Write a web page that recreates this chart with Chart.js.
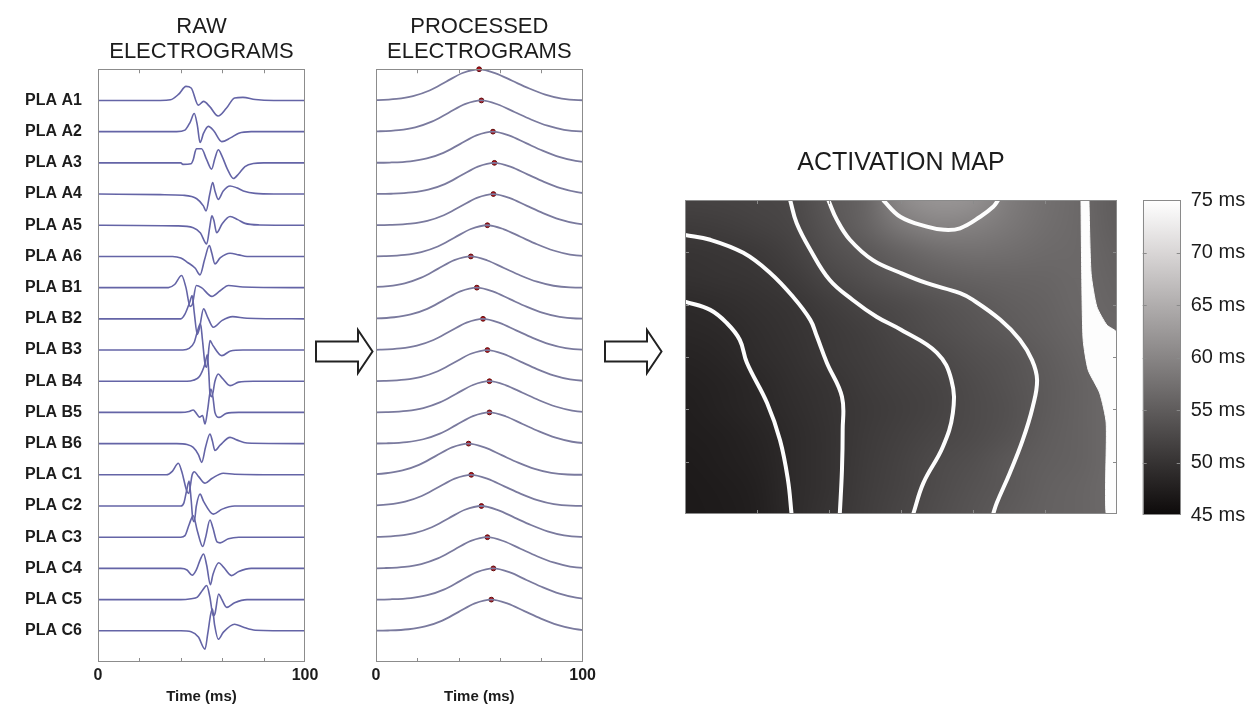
<!DOCTYPE html>
<html lang="en">
<head>
<meta charset="UTF-8">
<title>Electrograms and activation map</title>
<script src="https://cdn.jsdelivr.net/npm/chart.js"></script>
<style>
  body { margin: 0; background: #fff; width: 1255px; height: 706px; position: relative; overflow: hidden; }
  canvas { position: absolute; top: 0; }
  #arrows { position: absolute; left: 0; top: 0; }
</style>
</head>
<body>
<canvas id="raw" width="330" height="706" style="left:0px"></canvas>
<canvas id="proc" width="260" height="706" style="left:340px"></canvas>
<canvas id="map" width="470" height="540" style="left:660px"></canvas>
<canvas id="cbar" width="125" height="540" style="left:1130px"></canvas>
<svg id="arrows" width="1255" height="706">
  <polygon points="316,341.5 358,341.5 358,330 372.5,351.5 358,373 358,361.5 316,361.5" fill="#fff" stroke="#222" stroke-width="2"/>
  <polygon points="605,341.5 647,341.5 647,330 661.5,351.5 647,373 647,361.5 605,361.5" fill="#fff" stroke="#222" stroke-width="2"/>
</svg>
<script>
// electrode names, top to bottom
var electrodes = ['PLA A1','PLA A2','PLA A3','PLA A4','PLA A5','PLA A6',
                  'PLA B1','PLA B2','PLA B3','PLA B4','PLA B5','PLA B6',
                  'PLA C1','PLA C2','PLA C3','PLA C4','PLA C5','PLA C6']
var timeTicks = [0, 20, 40, 60, 80, 100]

// raw electrograms: [time ms, amplitude in trace spacings]
var rawA1 = [[0,0],[30,0],[35,0.02],[39,0.2],[42.5,0.45],[45,0.4],[48.5,-0.15],[51,-0.03],[54,-0.2],[58,-0.5],[62,-0.25],[66,0.08],[70,0.1],[76,0.03],[85,0],[100,0]]
var rawA2 = [[0,0],[38,0],[42,0.05],[44.5,0.3],[46.5,0.58],[48,0.2],[49.3,-0.35],[51,-0.05],[53.3,0.17],[56,0.02],[59.8,-0.32],[64,-0.2],[68,-0.05],[74,0],[100,0]]
var rawA3 = [[0,0],[40,0],[41,-0.05],[45,-0.03],[46,0.1],[47.5,0.45],[50,0.45],[52.5,0.1],[54.9,-0.2],[56.5,0.15],[58.1,0.42],[60,0.2],[62.5,-0.2],[65.4,-0.5],[68,-0.35],[71,-0.12],[75,-0.02],[80,0],[100,0]]
var rawA4 = [[0,0],[30,-0.02],[41,-0.04],[47.7,-0.15],[50.9,-0.38],[52.2,-0.54],[54,0],[55.4,0.37],[56.5,0.1],[58.1,-0.17],[60.5,0.1],[63.8,0.26],[67,0.2],[70.2,0.1],[76,0.02],[85,0],[100,0]]
var rawA5 = [[0,0],[38,-0.02],[46,-0.08],[49.5,-0.25],[52.5,-0.6],[54,-0.05],[55,0.3],[56,0.15],[57.3,-0.24],[60,0.05],[63.8,0.28],[67.5,0.18],[71,0.06],[78,0.01],[100,0]]
var rawA6 = [[0,0],[36,0],[40,-0.05],[43,-0.18],[47,-0.38],[49.3,-0.59],[51.5,-0.1],[53.8,0.35],[55,0.1],[56.5,-0.24],[59,-0.05],[63.8,0.1],[68,0.05],[72,0],[100,0]]
var rawB1 = [[0,0],[34,0],[37,0.1],[40.4,0.39],[42.5,0],[44.5,-0.6],[45.5,-0.55],[47.5,0.07],[50,0],[55,-0.28],[59,-0.1],[63,0.07],[70,0.02],[100,0]]
var rawB2 = [[0,0],[40,0],[42,0.15],[44.4,0.55],[45.5,0.75],[46.5,0.2],[48,-0.5],[49,-0.3],[51,0.32],[53,0.05],[55.7,-0.27],[60,-0.05],[65,0.07],[72,0.02],[100,0]]
var rawB3 = [[0,0],[41,0],[44,0.05],[46.5,0.25],[47.7,0.52],[49.5,0.85],[50.5,0.3],[51.7,-0.45],[52.5,-0.55],[54.1,0.3],[55.5,0.15],[59.8,-0.18],[64,-0.03],[70,0],[100,0]]
var rawB4 = [[0,0],[43,0],[46,0.03],[49,0.15],[51.7,0.56],[52.8,0.85],[53.5,0.3],[54.1,-0.4],[55,-0.5],[56.5,0],[58.1,0.23],[60,0.1],[63.8,-0.14],[68,-0.03],[75,0],[100,0]]
var rawB5 = [[0,0],[40,0],[44,0.03],[46,0.08],[47.5,-0.03],[49,-0.15],[50.5,-0.1],[51.7,-0.37],[53,0.1],[54.5,0.75],[55.5,0.5],[56.5,0],[58.5,-0.16],[62,-0.03],[68,0],[100,0]]
var rawB6 = [[0,0],[38,0],[43,-0.03],[46,-0.12],[48.5,-0.35],[50.1,-0.6],[52,-0.1],[54.1,0.31],[55.2,0.1],[56.5,-0.22],[59,-0.05],[63.8,0.2],[67,0.12],[72,0.02],[100,0]]
var rawC1 = [[0,0],[33,0],[36,0.12],[38.8,0.37],[40.5,0.1],[42.8,-0.5],[43.8,-0.6],[45.5,0],[46.5,0.1],[48.5,-0.05],[51.7,-0.27],[55,-0.12],[60.5,0.05],[66,0.02],[100,0]]
var rawC2 = [[0,0],[40,0],[41.5,0.1],[42.8,0.49],[44,0.8],[45,0.2],[45.8,-0.42],[46.5,-0.5],[47.5,0],[49.3,0.38],[51,0.15],[55.7,-0.26],[60,-0.1],[66,0],[100,0]]
var rawC3 = [[0,0],[40,0],[42,0.05],[44,0.4],[46,0.69],[48,0.2],[50.6,-0.3],[52,0],[54.1,0.55],[55.5,0.3],[57.5,-0.15],[59,-0.18],[63,-0.05],[68,0],[100,0]]
var rawC4 = [[0,0],[40,0],[43,-0.05],[45.5,-0.22],[47.5,-0.05],[49.5,0.3],[51,0.46],[52.5,0.1],[54.3,-0.52],[55.5,-0.2],[58.3,0.18],[60.5,0.05],[64.5,-0.23],[68,-0.1],[74,0],[100,0]]
var rawC5 = [[0,0],[40,0],[45,0.03],[48,0.08],[50.5,0.3],[52.5,0.45],[54,0.1],[55.7,-0.52],[56.5,-0.45],[58.3,0.18],[59.5,0.05],[62.2,-0.25],[66,-0.1],[72,0],[100,0]]
var rawC6 = [[0,0],[40,0],[45,-0.03],[48.5,-0.2],[51.7,-0.59],[53,-0.1],[54.5,0.55],[55.3,0.7],[56.3,0.2],[58.1,-0.27],[60.5,-0.05],[66,0.21],[70,0.12],[76,0.02],[100,0]]
var rawTraces = [rawA1, rawA2, rawA3, rawA4, rawA5, rawA6, rawB1, rawB2, rawB3, rawB4, rawB5, rawB6,
                 rawC1, rawC2, rawC3, rawC4, rawC5, rawC6]

// processed electrograms: one bump per electrode, peak (red dot) at the activation time
var peakTimes = [49.9, 51.0, 56.6, 57.3, 56.8, 53.9, 45.9, 48.8, 51.8, 53.9, 54.9, 54.9, 44.8, 46.1, 51.0, 53.9, 56.8, 55.8]
var bumpOffsets = [-60, -50, -40, -32, -24, -16, -8, 0, 8, 16, 24, 32, 40, 48, 60]
var bumpValues = [0, 0.01, 0.05, 0.14, 0.32, 0.6, 0.88, 1, 0.87, 0.63, 0.39, 0.19, 0.06, 0.01, 0]

// activation map (ms), rows from top (y=6) to bottom (y=0)
var mapX = [0, 0.5, 1, 1.5, 2, 2.5, 3, 3.5, 4, 4.5, 5, 5.5, 6]
var mapY = [6, 5.5, 5, 4.5, 4, 3.5, 3, 2.5, 2, 1.5, 1, 0.5, 0]
var activationGrid = [
  [51.8,52.0,52.2,52.6,54.5,56.0,60.5,62.0,61.5,59.0,57.5,56.5,55.0],
  [51.0,51.3,51.7,52.3,54.0,55.8,58.5,59.8,59.5,58.3,57.3,56.5,55.2],
  [50.2,50.4,50.8,51.7,53.3,54.4,55.8,57.0,57.5,57.2,56.8,56.5,55.5],
  [49.8,50.0,50.3,51.0,52.4,53.5,54.6,55.3,55.8,56.0,56.2,56.5,55.8],
  [48.9,49.3,49.8,50.3,51.2,52.2,53.0,53.8,54.6,55.3,55.8,56.5,56.0],
  [48.5,48.8,49.4,50.0,50.8,51.5,52.5,53.3,54.0,54.8,55.5,56.3,56.5],
  [48.0,48.4,49.2,49.8,50.6,51.3,52.0,52.6,53.5,54.0,55.0,56.0,56.8],
  [47.7,48.1,48.7,49.5,50.2,51.0,51.6,52.1,53.0,53.8,54.8,55.8,56.8],
  [47.5,47.9,48.5,49.3,50.0,50.8,51.4,52.0,52.8,53.6,54.8,55.8,56.8],
  [47.3,47.6,48.2,49.1,49.9,50.9,51.6,52.3,53.0,53.8,55.0,55.8,56.8],
  [47.1,47.4,47.9,49.1,49.9,51.0,51.8,52.8,53.5,54.5,55.3,55.8,56.8],
  [47.0,47.2,47.7,49.1,49.9,51.1,52.0,53.0,53.8,54.6,55.5,56.0,56.8],
  [47.0,47.1,47.6,49.0,50.2,51.3,52.2,53.2,54.0,54.9,55.6,56.0,56.8]
]
var mapTicks = [1, 2, 3, 4, 5]

// isochrone lines, [x, y] in map units
var contour1 = [[0,4.06],[0.35,3.9],[0.58,3.65],[0.76,3.33],[0.86,2.89],[1.14,2.12],[1.32,1.41],[1.43,0.65],[1.48,0]]
var contour2 = [[0,5.33],[0.35,5.24],[0.81,4.99],[1.18,4.61],[1.5,4.15],[1.74,3.71],[1.83,3.4],[1.97,2.89],[2.18,2.24],[2.19,1.61],[2.18,0.84],[2.15,0]]
var contour3 = [[1.46,6],[1.55,5.56],[1.74,5.05],[2.01,4.47],[2.33,4.09],[2.66,3.77],[3.0,3.52],[3.5,3.08],[3.7,2.56],[3.72,1.93],[3.58,1.28],[3.31,0.59],[3.17,0]]
var contour4 = [[1.99,6],[2.11,5.62],[2.29,5.24],[2.61,4.85],[2.99,4.61],[3.36,4.41],[3.82,4.22],[4.0,4.09],[4.38,3.71],[4.65,3.33],[4.82,2.94],[4.89,2.56],[4.83,2.05],[4.69,1.41],[4.51,0.78],[4.33,0.21],[4.28,0]]
var contour5 = [[2.75,6],[2.99,5.68],[3.36,5.49],[3.6,5.43],[3.82,5.46],[4.1,5.68],[4.28,5.87],[4.35,6]]
var rightBand = [[5.5,6],[5.51,4.6],[5.53,3.33],[5.6,2.75],[5.76,2.31],[5.85,1.74],[5.85,0],[6,0],[6,3.46],[5.86,3.61],[5.72,3.96],[5.64,4.6],[5.61,6]]

// colour bar
var cbarMin = 45
var cbarMax = 75
var cbarTicks = [45, 50, 55, 60, 65, 70, 75]

Chart.defaults.font.family = "'Liberation Sans', Arial, Helvetica, sans-serif"
Chart.defaults.color = '#1c1c1c'
Chart.defaults.animation = false
Chart.defaults.plugins.legend.display = false
Chart.defaults.plugins.tooltip.enabled = false

function grayOf(v) {
    var t = Math.max(0, Math.min(1, (v - cbarMin) / (cbarMax - cbarMin)))
    return Math.round(10 + t * 245)
}
function colorOf(v) {
    var g = grayOf(v)
    return 'rgb(' + Math.min(255, g + 3) + ',' + g + ',' + g + ')'
}

// box round the plot area with ticks pointing inward
var frame = {
    id: 'frame',
    afterDatasetsDraw: function (chart, args, opts) {
        var ctx = chart.ctx, a = chart.chartArea, len = opts.len || 4
        ctx.save()
        ctx.strokeStyle = opts.color || '#888'
        ctx.lineWidth = 1
        ctx.strokeRect(Math.round(a.left) + 0.5, Math.round(a.top) + 0.5, Math.round(a.width) - 1, Math.round(a.height) - 1)
        ctx.beginPath()
        ;(opts.xTicks || []).forEach(function (v) {
            var px = Math.round(chart.scales.x.getPixelForValue(v)) + 0.5
            ctx.moveTo(px, a.bottom); ctx.lineTo(px, a.bottom - len)
            ctx.moveTo(px, a.top); ctx.lineTo(px, a.top + len)
        })
        ;(opts.yTicks || []).forEach(function (v) {
            var py = Math.round(chart.scales.y.getPixelForValue(v)) + 0.5
            ctx.moveTo(a.left, py); ctx.lineTo(a.left + len, py)
            ctx.moveTo(a.right, py); ctx.lineTo(a.right - len, py)
        })
        ctx.stroke()
        ctx.restore()
    }
}

// smooth grey image of the activation grid, placed through the scales
var heatmap = {
    id: 'heatmap',
    beforeDatasetsDraw: function (chart) {
        var ctx = chart.ctx, x = chart.scales.x, y = chart.scales.y
        var rows = activationGrid.length, cols = mapX.length
        var off = document.createElement('canvas')
        off.width = cols
        off.height = rows
        var octx = off.getContext('2d')
        var img = octx.createImageData(cols, rows)
        activationGrid.forEach(function (row, r) {
            row.forEach(function (v, c) {
                var g = grayOf(v), k = (r * cols + c) * 4
                img.data[k] = Math.min(255, g + 3)
                img.data[k + 1] = g
                img.data[k + 2] = g
                img.data[k + 3] = 255
            })
        })
        octx.putImageData(img, 0, 0)
        var x0 = x.getPixelForValue(mapX[0]), x1 = x.getPixelForValue(mapX[cols - 1])
        var y0 = y.getPixelForValue(mapY[0]), y1 = y.getPixelForValue(mapY[rows - 1])
        ctx.save()
        ctx.imageSmoothingEnabled = true
        ctx.imageSmoothingQuality = 'high'
        ctx.drawImage(off, 0.5, 0.5, cols - 1, rows - 1, x0, y0, x1 - x0, y1 - y0)
        ctx.restore()
    }
}

function timeAxis() {
    return {
        type: 'linear', min: 0, max: 100,
        grid: { display: false, drawTicks: false },
        border: { display: false },
        afterBuildTicks: function (s) { s.ticks = timeTicks.map(function (v) { return { value: v } }) },
        ticks: {
            autoSkip: false, maxRotation: 0, padding: 4,
            font: { size: 16, weight: 'bold' },
            callback: function (v) { return (v === 0 || v === 100) ? String(v) : '' }
        },
        title: { display: true, text: 'Time (ms)', font: { size: 15, weight: 'bold' }, padding: { top: 2, bottom: 0 } },
        afterFit: function (s) { s.height = 44 }
    }
}

function titleOpts(lines) {
    return {
        display: true, text: lines, fullSize: false, color: '#1c1c1c',
        font: { size: 22, weight: 'normal', lineHeight: 1.15 },
        padding: { top: 0, bottom: 4.3 }
    }
}

// raw electrograms
new Chart(document.getElementById('raw'), {
    type: 'line',
    data: {
        datasets: rawTraces.map(function (tr, i) {
            return {
                data: tr.map(function (p) { return { x: p[0], y: 18 - i + p[1] } }),
                borderColor: '#6464a6', borderWidth: 1.6, pointRadius: 0,
                cubicInterpolationMode: 'monotone'
            }
        })
    },
    options: {
        responsive: false,
        layout: { padding: { top: 14.35, right: 25, left: 0, bottom: 0 } },
        plugins: {
            title: titleOpts(['RAW', 'ELECTROGRAMS']),
            frame: { color: '#8c8c8c', xTicks: [20, 40, 60, 80] }
        },
        scales: {
            x: timeAxis(),
            y: {
                type: 'linear', min: 0, max: 19,
                grid: { display: false, drawTicks: false },
                border: { display: false },
                afterBuildTicks: function (s) { s.ticks = electrodes.map(function (e, i) { return { value: 18 - i } }) },
                ticks: {
                    autoSkip: false, padding: 16,
                    font: { size: 16, weight: 'bold' },
                    callback: function (v) { return electrodes[18 - v] }
                },
                afterFit: function (s) { s.width = 98 }
            }
        }
    },
    plugins: [frame]
})

// processed electrograms with the detected activation times
var procSets = peakTimes.map(function (t, i) {
    return {
        data: bumpOffsets.map(function (o, k) { return { x: t + o, y: 18 - i + bumpValues[k] } }),
        borderColor: '#7a7a9e', borderWidth: 1.8, pointRadius: 0,
        cubicInterpolationMode: 'monotone'
    }
})
procSets.push({
    data: peakTimes.map(function (t, i) { return { x: t, y: 19 - i } }),
    showLine: false, pointRadius: 2.4, pointBorderWidth: 1,
    pointBackgroundColor: '#b8121a', pointBorderColor: '#5e0a0a',
    clip: false
})

new Chart(document.getElementById('proc'), {
    type: 'line',
    data: { datasets: procSets },
    options: {
        responsive: false,
        layout: { padding: { top: 14.35, right: 15.7, left: 0, bottom: 0 } },
        plugins: {
            title: titleOpts(['PROCESSED', 'ELECTROGRAMS']),
            frame: { color: '#8c8c8c', xTicks: [20, 40, 60, 80] }
        },
        scales: {
            x: timeAxis(),
            y: {
                type: 'linear', min: 0, max: 19,
                grid: { display: false, drawTicks: false },
                border: { display: false },
                ticks: { display: false },
                afterFit: function (s) { s.width = 36 }
            }
        }
    },
    plugins: [frame]
})

// activation map
function isoLine(pts) {
    return {
        data: pts.map(function (p) { return { x: p[0], y: p[1] } }),
        showLine: true, borderColor: '#fdfdfd', borderWidth: 4, pointRadius: 0, tension: 0.4
    }
}
var band = {
    data: rightBand.map(function (p) { return { x: p[0], y: p[1] } }),
    showLine: true, borderColor: '#fdfdfd', backgroundColor: '#fdfdfd', borderWidth: 1,
    pointRadius: 0, tension: 0.2, fill: 'shape'
}

new Chart(document.getElementById('map'), {
    type: 'scatter',
    data: { datasets: [isoLine(contour1), isoLine(contour2), isoLine(contour3), isoLine(contour4), isoLine(contour5), band] },
    options: {
        responsive: false,
        layout: { padding: { top: 147.7, left: 25, right: 13, bottom: 26 } },
        plugins: {
            title: {
                display: true, text: 'ACTIVATION MAP', fullSize: false, color: '#1c1c1c',
                font: { size: 25, weight: 'normal', lineHeight: 1.2 },
                padding: { top: 0, bottom: 22.3 }
            },
            frame: { color: '#8a8a8a', xTicks: mapTicks, yTicks: mapTicks }
        },
        scales: {
            x: { type: 'linear', min: 0, max: 6, display: false },
            y: { type: 'linear', min: 0, max: 6, display: false }
        }
    },
    plugins: [heatmap, frame]
})

// colour bar
new Chart(document.getElementById('cbar'), {
    type: 'bar',
    data: {
        labels: ['ms'],
        datasets: [{
            data: [[cbarMin, cbarMax]],
            barPercentage: 1, categoryPercentage: 1, borderWidth: 0,
            backgroundColor: function (c) {
                var chart = c.chart, y = chart.scales.y
                if (!chart.chartArea || !y) return '#777'
                var g = chart.ctx.createLinearGradient(0, y.getPixelForValue(cbarMin), 0, y.getPixelForValue(cbarMax))
                cbarTicks.forEach(function (v) { g.addColorStop((v - cbarMin) / (cbarMax - cbarMin), colorOf(v)) })
                return g
            }
        }]
    },
    options: {
        responsive: false,
        layout: { padding: { top: 200, bottom: 25, left: 12.7, right: 0 } },
        plugins: {
            frame: { color: '#8a8a8a', yTicks: [50, 55, 60, 65, 70] }
        },
        scales: {
            x: { display: false },
            y: {
                position: 'right', min: cbarMin, max: cbarMax,
                grid: { display: false, drawTicks: false },
                border: { display: false },
                afterBuildTicks: function (s) { s.ticks = cbarTicks.map(function (v) { return { value: v } }) },
                ticks: { padding: 10, font: { size: 20 }, color: '#1c1c1c', callback: function (v) { return v + ' ms' } },
                afterFit: function (s) { s.width = 74.3 }
            }
        }
    },
    plugins: [frame]
})
</script>
</body>
</html>
